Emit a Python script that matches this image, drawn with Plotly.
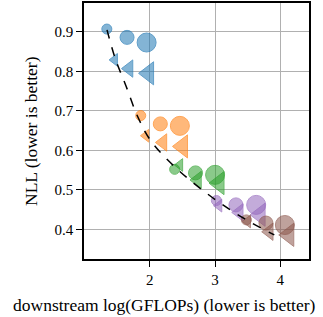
import plotly.graph_objects as go

# data per model family: circle markers and triangle markers (small, medium, large)
families = ["blue", "orange", "green", "purple", "brown"]
colors = ["#1f77b4", "#ff7f0e", "#2ca02c", "#9467bd", "#8c564b"]
fills = ["rgba(31,119,180,0.78)", "rgba(255,127,14,0.78)", "rgba(44,160,44,0.78)",
         "rgba(148,103,189,0.78)", "rgba(140,86,75,0.78)"]

circle_x = [[1.34, 1.65, 1.95], [1.86, 2.16, 2.46], [2.38, 2.70, 3.00],
            [3.02, 3.32, 3.63], [3.48, 3.78, 4.07]]
circle_y = [[0.907, 0.886, 0.873], [0.688, 0.667, 0.662], [0.552, 0.543, 0.538],
            [0.473, 0.462, 0.462], [0.424, 0.416, 0.411]]
tri_x = [[1.46, 1.68, 1.98], [1.94, 2.20, 2.50], [2.46, 2.73, 3.06],
         [3.06, 3.37, 3.69], [3.50, 3.83, 4.13]]
tri_y = [[0.829, 0.807, 0.795], [0.637, 0.620, 0.610], [0.563, 0.525, 0.517],
         [0.460, 0.443, 0.437], [0.420, 0.394, 0.386]]
circle_sizes = [10, 14, 19]
tri_sizes = [11, 15, 20]

# dashed frontier curve
front_x = [1.343, 1.466, 1.634, 1.809, 2.015, 2.397, 2.947, 3.450, 3.908]
front_y = [0.905, 0.834, 0.763, 0.687, 0.624, 0.556, 0.482, 0.427, 0.386]

x_ticks = [2, 3, 4]
y_ticks = [0.4, 0.5, 0.6, 0.7, 0.8, 0.9]

SERIF = "Liberation Serif"

fig = go.Figure()
for i in range(len(families)):
    fig.add_trace(go.Scatter(
        x=circle_x[i], y=circle_y[i], mode="markers",
        marker=dict(symbol="circle", size=circle_sizes, color=fills[i],
                    line=dict(color=colors[i], width=1)),
        showlegend=False, hoverinfo="skip"))
    fig.add_trace(go.Scatter(
        x=tri_x[i], y=tri_y[i], mode="markers",
        marker=dict(symbol="triangle-left", size=tri_sizes, color=fills[i],
                    line=dict(color=colors[i], width=1)),
        showlegend=False, hoverinfo="skip"))

fig.add_trace(go.Scatter(
    x=front_x, y=front_y, mode="lines",
    line=dict(color="black", width=1.5, dash="dash", shape="spline"),
    showlegend=False, hoverinfo="skip"))

axis_common = dict(
    showline=True, linecolor="black", linewidth=1.5, mirror=True,
    showgrid=True, gridcolor="#b0b0b0", gridwidth=1.2,
    ticks="outside", ticklen=6, tickwidth=1.3, tickcolor="black",
    zeroline=False, automargin=False,
    tickfont=dict(family=SERIF, size=15, color="black"),
)

fig.update_layout(
    template="none",
    font=dict(family=SERIF, size=15, color="black"),
    width=323, height=317,
    margin=dict(l=84, r=14, t=3, b=58, pad=0),
    paper_bgcolor="white", plot_bgcolor="white",
    xaxis=dict(range=[0.99, 4.44], tickvals=x_ticks, ticktext=[str(v) for v in x_ticks], **axis_common),
    yaxis=dict(range=[0.325, 0.973], tickvals=y_ticks, ticktext=[f"{v:.1f}" for v in y_ticks], **axis_common),
    annotations=[
        dict(text="downstream log(GFLOPs) (lower is better)", xref="paper", yref="paper",
             x=(163.5 - 84) / 225, y=-(305 - 259) / 256, xanchor="center", yanchor="middle",
             showarrow=False, font=dict(family=SERIF, size=17.5, color="black")),
        dict(text="NLL (lower is better)", xref="paper", yref="paper",
             x=-(84 - 31) / 225, y=0.5, xanchor="center", yanchor="middle", textangle=-90,
             showarrow=False, font=dict(family=SERIF, size=17.5, color="black")),
    ],
)

fig.write_html("out.html", config={"displayModeBar": False},
               post_script="document.body.style.margin='0';document.body.style.padding='0';")
